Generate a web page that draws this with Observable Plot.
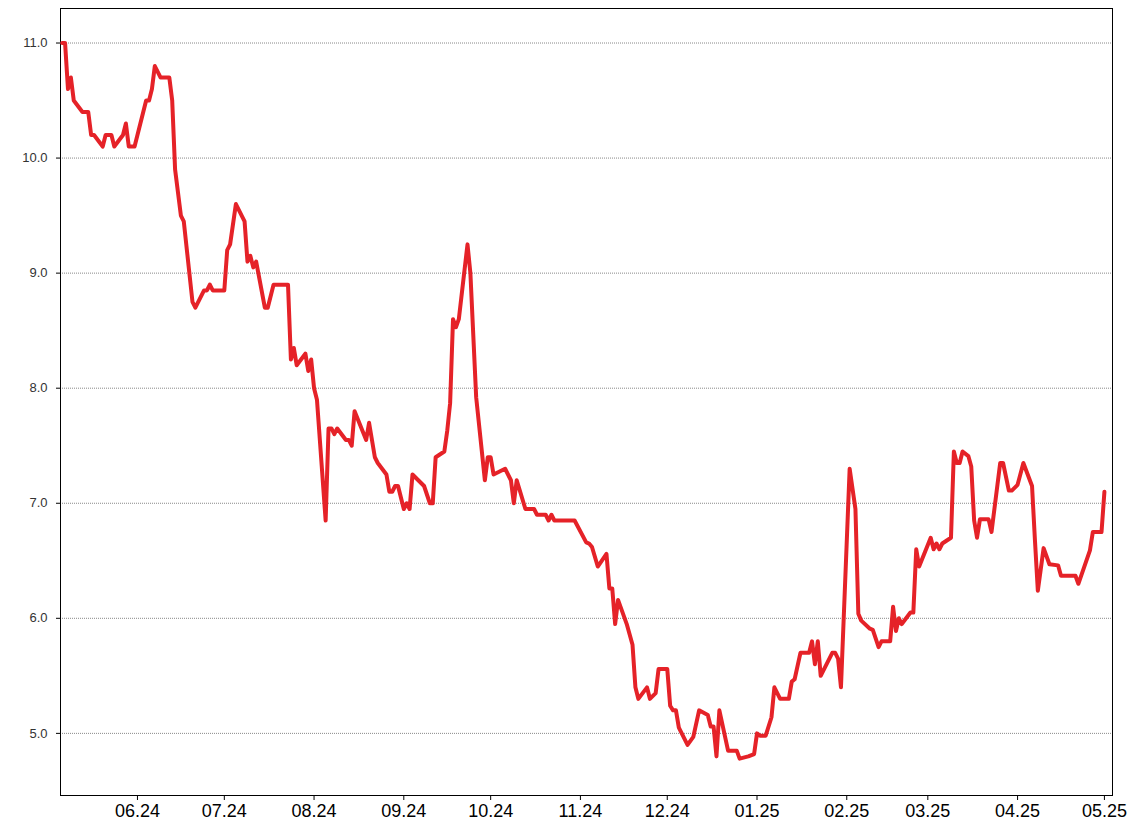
<!DOCTYPE html>
<html>
<head>
<meta charset="utf-8">
<script src="https://cdn.jsdelivr.net/npm/d3@7"></script>
<script src="https://cdn.jsdelivr.net/npm/@observablehq/plot@0.6"></script>
<style>
  html, body { margin: 0; padding: 0; background: #fff; }
  #chart svg { display: block; }
</style>
</head>
<body>
<div id="chart"></div>
<script>
const dates = [
  "2024-05-06","2024-05-07","2024-05-08","2024-05-09","2024-05-10","2024-05-13","2024-05-15","2024-05-16","2024-05-17","2024-05-20",
  "2024-05-21","2024-05-23","2024-05-24","2024-05-27","2024-05-28","2024-05-29","2024-05-31","2024-06-04","2024-06-05","2024-06-06",
  "2024-06-07","2024-06-09","2024-06-12","2024-06-13","2024-06-14","2024-06-16","2024-06-17","2024-06-20","2024-06-21","2024-06-24",
  "2024-06-25","2024-06-26","2024-06-27","2024-07-01","2024-07-02","2024-07-03","2024-07-05","2024-07-08","2024-07-09","2024-07-10",
  "2024-07-11","2024-07-12","2024-07-15","2024-07-16","2024-07-18","2024-07-23","2024-07-24","2024-07-25","2024-07-26","2024-07-29",
  "2024-07-30","2024-07-31","2024-08-01","2024-08-02","2024-08-05","2024-08-06","2024-08-07","2024-08-08","2024-08-09","2024-08-12",
  "2024-08-13","2024-08-14","2024-08-15","2024-08-19","2024-08-20","2024-08-22","2024-08-23","2024-08-26","2024-08-27","2024-08-28",
  "2024-08-29","2024-08-30","2024-09-01","2024-09-02","2024-09-03","2024-09-04","2024-09-06","2024-09-08","2024-09-10","2024-09-11",
  "2024-09-12","2024-09-15","2024-09-16","2024-09-17","2024-09-18","2024-09-19","2024-09-20","2024-09-23","2024-09-24","2024-09-26",
  "2024-09-29","2024-09-30","2024-10-01","2024-10-02","2024-10-06","2024-10-08","2024-10-09","2024-10-10","2024-10-13","2024-10-16",
  "2024-10-17","2024-10-20","2024-10-21","2024-10-22","2024-10-23","2024-10-30","2024-11-03","2024-11-04","2024-11-05","2024-11-07",
  "2024-11-10","2024-11-11","2024-11-12","2024-11-13","2024-11-14","2024-11-17","2024-11-19","2024-11-20","2024-11-21","2024-11-24",
  "2024-11-25","2024-11-27","2024-11-28","2024-12-01","2024-12-02","2024-12-03","2024-12-04","2024-12-05","2024-12-08","2024-12-10",
  "2024-12-12","2024-12-15","2024-12-16","2024-12-17","2024-12-18","2024-12-19","2024-12-22","2024-12-25","2024-12-26","2024-12-29",
  "2024-12-31","2025-01-01","2025-01-02","2025-01-04","2025-01-06","2025-01-07","2025-01-09","2025-01-12","2025-01-13","2025-01-14",
  "2025-01-16","2025-01-19","2025-01-20","2025-01-21","2025-01-22","2025-01-23","2025-01-27","2025-01-28","2025-01-29","2025-01-30",
  "2025-02-02","2025-02-04","2025-02-05","2025-02-06","2025-02-09","2025-02-10","2025-02-12","2025-02-13","2025-02-16","2025-02-17",
  "2025-02-18","2025-02-19","2025-02-20","2025-02-23","2025-02-24","2025-02-25","2025-02-26","2025-03-02","2025-03-03","2025-03-04",
  "2025-03-05","2025-03-06","2025-03-09","2025-03-10","2025-03-11","2025-03-12","2025-03-13","2025-03-15","2025-03-16","2025-03-17",
  "2025-03-18","2025-03-19","2025-03-22","2025-03-23","2025-03-26","2025-03-27","2025-03-29","2025-03-30","2025-04-01","2025-04-03",
  "2025-04-06","2025-04-07","2025-04-08","2025-04-10","2025-04-12","2025-04-15","2025-04-16","2025-04-21","2025-04-22","2025-04-26",
  "2025-04-27","2025-04-30","2025-05-01"
];
const values = [
  11.0,11.0,10.6,10.7,10.5,10.4,10.4,10.2,10.2,10.1,
  10.2,10.2,10.1,10.2,10.3,10.1,10.1,10.5,10.5,10.6,
  10.8,10.7,10.7,10.5,9.9,9.5,9.45,8.75,8.7,8.85,
  8.85,8.9,8.85,8.85,9.2,9.25,9.6,9.45,9.1,9.15,
  9.05,9.1,8.7,8.7,8.9,8.9,8.25,8.35,8.2,8.3,
  8.15,8.25,8.0,7.9,6.85,7.65,7.65,7.6,7.65,7.55,
  7.55,7.5,7.8,7.55,7.7,7.4,7.35,7.25,7.1,7.1,
  7.15,7.15,6.95,7.0,6.95,7.25,7.2,7.15,7.0,7.0,
  7.4,7.45,7.63,7.87,8.6,8.53,8.6,9.25,9.0,7.92,
  7.2,7.4,7.4,7.25,7.3,7.2,7.0,7.2,6.95,6.95,
  6.9,6.9,6.85,6.9,6.85,6.85,6.66,6.65,6.62,6.45,
  6.56,6.26,6.26,5.95,6.16,5.95,5.77,5.4,5.3,5.4,
  5.3,5.35,5.56,5.56,5.24,5.2,5.2,5.05,4.9,4.97,
  5.2,5.16,5.06,5.06,4.8,5.2,4.85,4.85,4.78,4.8,
  4.82,5.0,4.98,4.98,5.14,5.4,5.3,5.3,5.45,5.47,
  5.7,5.7,5.8,5.6,5.8,5.5,5.7,5.7,5.65,5.4,
  7.3,6.95,6.04,5.98,5.91,5.9,5.75,5.8,5.8,6.1,
  5.89,6.0,5.95,6.05,6.05,6.6,6.45,6.7,6.6,6.65,
  6.6,6.65,6.7,7.45,7.35,7.35,7.45,7.41,7.32,6.85,
  6.7,6.86,6.86,6.75,7.35,7.35,7.11,7.11,7.16,7.35,
  7.15,6.68,6.24,6.61,6.47,6.46,6.37,6.37,6.3,6.59,
  6.75,6.75,7.1
];
const xDomain = ["2024-05-05T10:00:00Z", "2025-05-03T19:00:00Z"];
const yDomain = [4.46, 11.30];
const monthTicks = ["2024-06-01","2024-07-01","2024-08-01","2024-09-01","2024-10-01","2024-11-01",
                    "2024-12-01","2025-01-01","2025-02-01","2025-03-01","2025-04-01","2025-05-01"];
const yTicks = [5, 6, 7, 8, 9, 10, 11];

const data = dates.map((d, i) => ({date: new Date(d), value: values[i]}));
const xTickDates = monthTicks.map(d => new Date(d));

const chart = Plot.plot({
  width: 1128,
  height: 836,
  marginLeft: 60,
  marginRight: 16,
  marginTop: 8,
  marginBottom: 41,
  style: {fontFamily: "'Liberation Sans', Arial, sans-serif", background: "#fff", color: "#000"},
  x: {type: "utc", domain: xDomain.map(d => new Date(d))},
  y: {domain: yDomain},
  marks: [
    Plot.gridY(yTicks, {stroke: "#888", strokeOpacity: 1, strokeDasharray: "1,1", strokeWidth: 1}),
    Plot.frame({stroke: "#000", strokeWidth: 1}),
    Plot.axisY(yTicks, {tickSize: 4, tickPadding: 9, fontSize: 13, fill: "#333", stroke: "#000",
      tickFormat: d3.format(".1f"), label: null}),
    Plot.axisX(xTickDates, {tickSize: 5, tickPadding: 4, fontSize: 18, fill: "#000", stroke: "#000",
      tickFormat: d3.utcFormat("%m.%y"), label: null}),
    Plot.lineY(data, {x: "date", y: "value", stroke: "#e52228", strokeWidth: 4, strokeLinejoin: "round"})
  ]
});
document.getElementById("chart").appendChild(chart);
</script>
</body>
</html>
